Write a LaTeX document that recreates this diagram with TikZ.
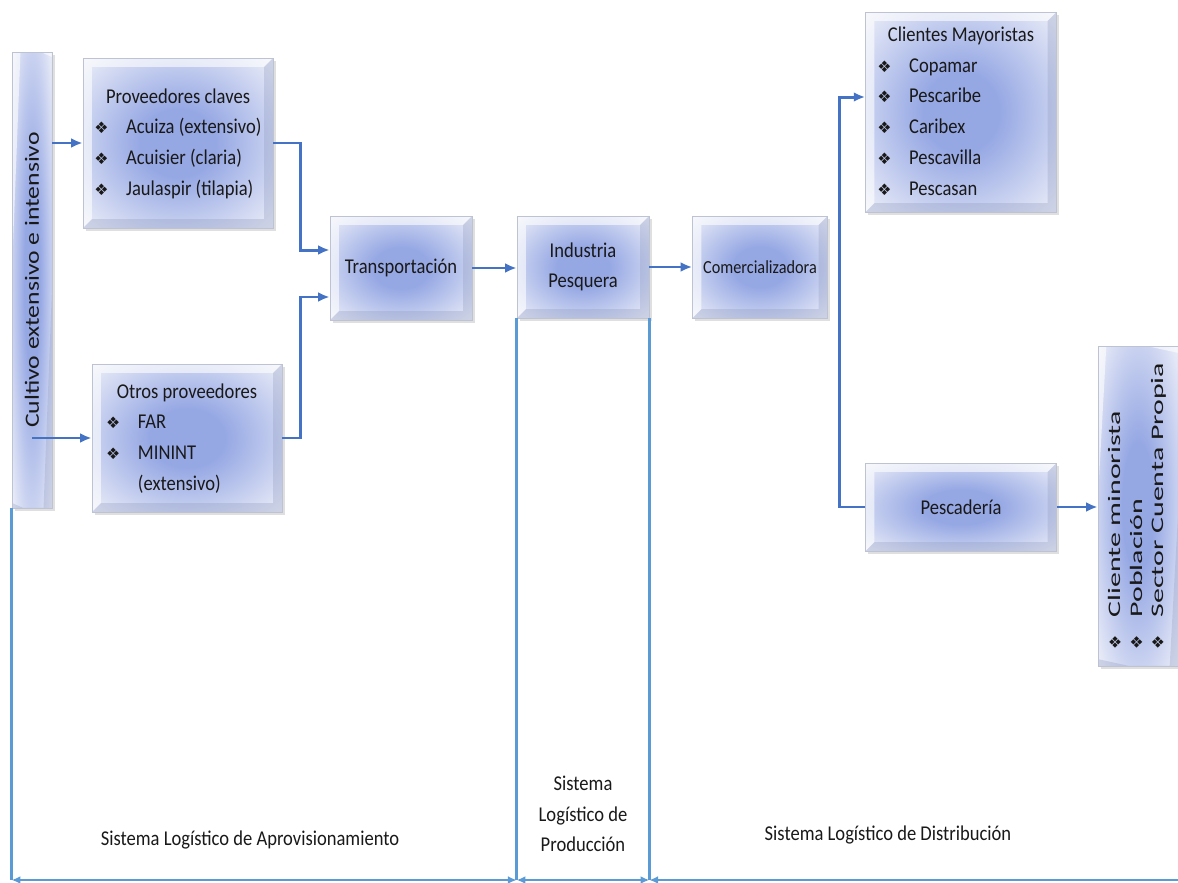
\documentclass[tikz,border=0pt]{standalone}
\usepackage{fontspec}
\setmainfont{Carlito}[FakeStretch=0.88]
\newfontfamily\dingfont{DejaVu Sans}
\newfontfamily\cultfont{Carlito}[FakeStretch=1.27]
\newfontfamily\minfont{Carlito}[FakeStretch=1.7]
\usetikzlibrary{arrows.meta,shadows}
\definecolor{flowblue}{RGB}{68,114,196}
\definecolor{rulerblue}{RGB}{91,155,213}
\definecolor{boxmid}{RGB}{150,168,228}
\definecolor{boxedge}{RGB}{232,235,247}
\definecolor{boxrim}{RGB}{190,195,212}
\pgfdeclareradialshading{boxglow}{\pgfpoint{0bp}{0bp}}{color(0bp)=(boxmid); color(10bp)=(boxmid); color(34bp)=(boxedge); color(50bp)=(boxedge)}
\newcommand{\bul}{{\dingfont\fontsize{9}{9}\selectfont\char"2756}}

\begin{document}
\begin{tikzpicture}[x=0.02cm, y=-0.02cm,
  every node/.style={font=\fontsize{12}{17.5}\selectfont, text=black!90},
  bevel/.style={path picture={
    \fill[white,opacity=0.6] (path picture bounding box.south west) -- (path picture bounding box.north west) -- (path picture bounding box.north east) -- ([shift={(-5pt,-5pt)}]path picture bounding box.north east) -- ([shift={(5pt,-5pt)}]path picture bounding box.north west) -- ([shift={(5pt,5pt)}]path picture bounding box.south west) -- cycle;
    \fill[boxmid!60!gray,opacity=0.3] (path picture bounding box.south west) -- (path picture bounding box.south east) -- (path picture bounding box.north east) -- ([shift={(-5pt,-5pt)}]path picture bounding box.north east) -- ([shift={(-5pt,5pt)}]path picture bounding box.south east) -- ([shift={(5pt,5pt)}]path picture bounding box.south west) -- cycle;
  }},
  box/.style={draw=boxrim, line width=0.4pt, shading=boxglow,
    drop shadow={opacity=0.25, shadow xshift=1.5pt, shadow yshift=-1.5pt}, bevel},
  flow/.style={flowblue, line width=1.7pt, -{Latex[length=6.5pt,width=5.5pt]}},
  edge/.style={rulerblue, line width=1.4pt},
  both/.style={edge, {Latex[length=5pt,width=4.5pt]}-{Latex[length=5pt,width=4.5pt]}}]
\useasboundingbox (0,0) rectangle (1178,883);

\node[box, minimum width=9.12cm, minimum height=0.8cm, rotate=90, font=\cultfont\fontsize{11.5}{14}\selectfont] (cult) at (32,280) {Cultivo extensivo e intensivo};
\node[box, minimum width=3.8cm, minimum height=3.4cm] (prov) at (178,143) {\begin{tabular}{@{}l@{\hspace{10pt}}l@{}}\multicolumn{2}{c}{Proveedores claves}\\ \bul & Acuiza (extensivo)\\ \bul & Acuisier (claria)\\ \bul & Jaulaspir (tilapia)\end{tabular}};
\node[box, minimum width=3.8cm, minimum height=2.96cm] (otros) at (187,438) {\begin{tabular}{@{}l@{\hspace{10pt}}l@{}}\multicolumn{2}{c}{Otros proveedores}\\ \bul & FAR\\ \bul & MININT\\ & (extensivo)\end{tabular}};
\node[box, minimum width=2.84cm, minimum height=2.08cm] (transp) at (401,268) {Transportación};
\node[box, minimum width=2.64cm, minimum height=2.04cm, align=center] (ind) at (583,267) {Industria\\Pesquera};
\node[box, minimum width=2.7cm, minimum height=2.04cm, font=\fontsize{10.5}{14}\selectfont] (com) at (760,267) {Comercializadora};
\node[box, minimum width=3.82cm, minimum height=4cm] (cli) at (961,112) {\begin{tabular}{@{}l@{\hspace{10pt}}l@{}}\multicolumn{2}{c}{Clientes Mayoristas}\\ \bul & Copamar\\ \bul & Pescaribe\\ \bul & Caribex\\ \bul & Pescavilla\\ \bul & Pescasan\end{tabular}};
\node[box, minimum width=3.82cm, minimum height=1.76cm] (pesc) at (961,507) {Pescadería};
\node[box, minimum width=6.4cm, minimum height=1.6cm, rotate=90, font=\minfont\fontsize{10}{12.2}\selectfont] (minor) at (1138,506) {\begin{tabular}{@{}l@{\hspace{10pt}}l@{}}\bul & Cliente minorista\\ \bul & Población\\ \bul & Sector Cuenta Propia\end{tabular}};

\draw[flow] (prov.west -| cult.south) -- (prov.west);
\draw[flow] (otros.west -| cult.center) -- (otros.west);
\draw[flow] (prov.east) -- ++(27,0) |- ([yshift=0.36cm]transp.west);
\draw[flow] (otros.east) -- ++(18,0) |- ([yshift=-0.58cm]transp.west);
\draw[flow] (transp.east) -- (transp.east -| ind.west);
\draw[flow] (ind.east) -- (ind.east -| com.west);
\draw[flow] (pesc.west) -- ++(-26,0) |- ([yshift=0.3cm]cli.west);
\draw[flow] (pesc.east) -- (pesc.east -| minor.north);

% subsystems along the bottom
\coordinate (base) at (0,880);
\coordinate (far) at (1178,880);
\draw[edge] (cult.north west) -- (cult.north west |- base);
\draw[edge] (ind.south west) -- (ind.south west |- base);
\draw[edge] (ind.south east) -- (ind.south east |- base);
\draw[both] (cult.north west |- base) -- (ind.south west |- base);
\draw[both] (ind.south west |- base) -- (ind.south east |- base);
\draw[edge, {Latex[length=5pt,width=4.5pt]}-] (ind.south east |- base) -- (far);

\node (aprov) at (250,840) {Sistema Logístico de Aprovisionamiento};
\node[align=center] (prod) at (583,814) {Sistema\\Logístico de\\Producción};
\node (dist) at (888,835) {Sistema Logístico de Distribución};
\end{tikzpicture}
\end{document}
